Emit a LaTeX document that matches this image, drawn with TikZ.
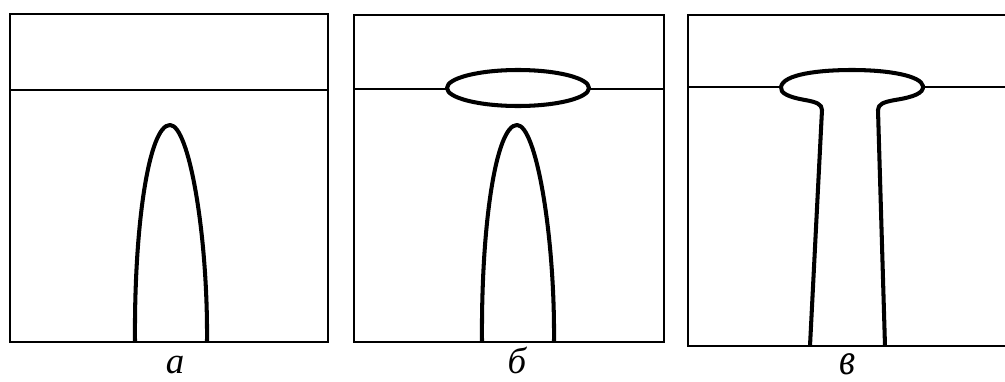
\documentclass[tikz,border=0pt]{standalone}
\usepackage{fontspec}
\setmainfont{Liberation Serif}
\tikzset{
  frame/.style={line width=1.6pt},
  level/.style={line width=0.9pt},
  melt/.style={line width=2.3pt, line join=round},
  caption/.style={font=\fontsize{21}{24}\selectfont\itshape, inner sep=0pt}
}
\begin{document}
\begin{tikzpicture}[x=0.02cm, y=-0.02cm]
        \useasboundingbox (0,0) rectangle (1005,382);

        % Frames
        \draw[frame] (10,14) rectangle (328,342);
        \draw[frame] (354,15) rectangle (664,342);
        \draw[frame] (1005,15) -- (688,15) -- (688,346) -- (1005,346);

        % Surface lines
        \draw[level] (10,90) -- (328,90);
        \draw[level] (354,89) -- (447,89);
        \draw[level] (589,89) -- (664,89);
        \draw[level] (688,87) -- (781,87);
        \draw[level] (923,87) -- (1005,87);

        % Rising channel (a) and (b)
        \foreach \dx in {0,347}
            \draw[melt] (135+\dx,342) .. controls (134+\dx,225) and (149+\dx,125) .. (170+\dx,125)
                        .. controls (189+\dx,125) and (208+\dx,235) .. (207+\dx,342);

        % Lens under the surface (b)
        \draw[melt] (518,88) ellipse [x radius=71, y radius=18];

        % Channel with spread head (c)
        \draw[melt] (810,346) -- (822,110)
            .. controls (822,104) and (816,102) .. (805,100)
            .. controls (788,97) and (780,93) .. (781,87)
            .. controls (783,74) and (820,70) .. (852,70)
            .. controls (890,70) and (921,76) .. (923,86)
            .. controls (924,93) and (914,97) .. (895,100)
            .. controls (884,102) and (878,104) .. (878,110) -- (885,346);

        % Labels
        \node[caption] (la) at (175,365) {а};
        \node[caption] (lb) at (517,360) {б};
        \node[caption] (lc) at (848,364) {\scalebox{1}[1.2]{в}};
\end{tikzpicture}
\end{document}
